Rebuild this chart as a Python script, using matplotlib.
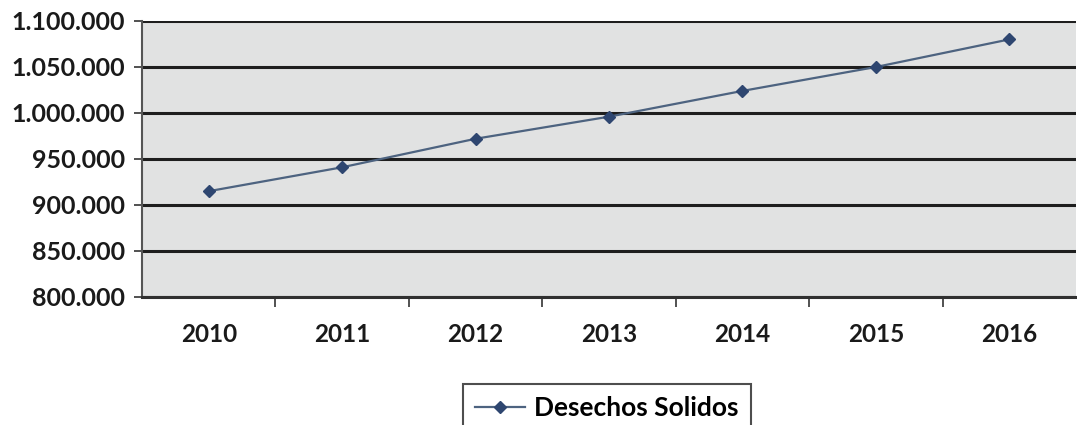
import matplotlib.pyplot as plt
from matplotlib.ticker import FuncFormatter, FixedLocator

# yearly data
years = ['2010', '2011', '2012', '2013', '2014', '2015', '2016']
desechos = [915000, 941000, 972000, 996000, 1024000, 1050000, 1080000]

plt.rcParams['font.family'] = ['Lato', 'DejaVu Sans']
plt.rcParams['font.weight'] = 'bold'

fig = plt.figure(figsize=(10.77, 4.25), dpi=100)
ax = fig.add_axes([142 / 1077, 1 - 297 / 425, (1076 - 142) / 1077, (297 - 21) / 425])
ax.set_facecolor('#e1e2e2')

x = list(range(len(years)))
line, = ax.plot(x, desechos, color='#4d6380', lw=1.6, marker='D', ms=6.5,
                mfc='#2e4670', mec='#2e4670', label='Desechos Solidos', zorder=3)

ax.set_xlim(-0.5, len(years) - 0.5)
ax.set_ylim(800000, 1100000)
ax.set_yticks(range(800000, 1100001, 50000))
ax.yaxis.set_major_formatter(FuncFormatter(lambda v, p: f'{int(v):,}'.replace(',', '.')))
ax.set_xticks(x)
ax.set_xticklabels(years)
ax.xaxis.set_minor_locator(FixedLocator([i + 0.5 for i in x[:-1]]))

ax.grid(axis='y', color='#1e1e1e', lw=2.2)
ax.set_axisbelow(True)
ax.tick_params(axis='x', which='major', length=0, pad=19, labelsize=17.5, labelcolor='#1a1a1a')
ax.tick_params(axis='x', which='minor', length=7, width=1.2, color='#333333')
ax.tick_params(axis='y', length=6, width=1.2, color='#333333', pad=6, labelsize=18, labelcolor='#1a1a1a')

for s in ['top', 'right']:
    ax.spines[s].set_visible(False)
ax.spines['left'].set_color('#555555')
ax.spines['left'].set_linewidth(1.5)
ax.spines['bottom'].set_color('#303030')
ax.spines['bottom'].set_linewidth(2.2)

leg = fig.legend(handles=[line], loc='upper left', bbox_to_anchor=(463 / 1077, 1 - 384 / 425),
                 frameon=True, fancybox=False, edgecolor='#222222', fontsize=19,
                 handlelength=1.9, borderpad=0.45, borderaxespad=0, handletextpad=0.35)
leg.get_frame().set_linewidth(1.5)

fig.savefig('out.png', dpi=100)
